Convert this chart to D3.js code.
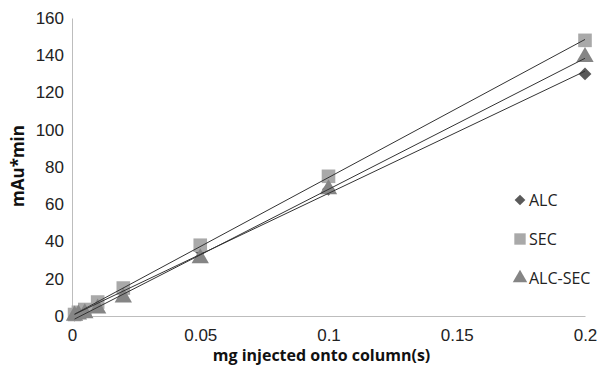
<!DOCTYPE html>
<html>
<head>
<meta charset="utf-8">
<script src="https://cdn.jsdelivr.net/npm/d3@7"></script>
<style>
  body { margin: 0; background: #fff; }
  svg { font-family: "Open Sans", sans-serif; }
</style>
</head>
<body>
<div id="chart"></div>
<script>
// mg injected
const doses = [0.001, 0.0025, 0.005, 0.01, 0.02, 0.05, 0.1, 0.2];
// peak areas (mAu*min)
const alc = [0.5, 1.5, 3, 6, 13, 35, 68, 130];
const sec = [0.8, 2, 3.5, 7.5, 15, 38, 75, 148];
const alcSec = [0.2, 0.8, 1.5, 4, 10, 31, 68, 139];
const seriesNames = ['ALC', 'SEC', 'ALC-SEC'];
const xTicks = [0, 0.05, 0.1, 0.15, 0.2];
const yTicks = [0, 20, 40, 60, 80, 100, 120, 140, 160];

const width = 598, height = 367;
const margin = {top: 18, right: 13, bottom: 51, left: 72};
const w = width - margin.left - margin.right;
const h = height - margin.top - margin.bottom;

const svg = d3.select('#chart').append('svg')
  .attr('width', width).attr('height', height);
const g = svg.append('g')
  .attr('transform', `translate(${margin.left},${margin.top})`);

const x = d3.scaleLinear().domain([0, 0.2]).range([0, w]);
const y = d3.scaleLinear().domain([0, 160]).range([h, 0]);

// axes
g.append('g')
  .attr('transform', `translate(0,${h})`)
  .call(d3.axisBottom(x).tickValues(xTicks).tickSize(0).tickPadding(13)
    .tickFormat(d => d === 0 ? '0' : String(+d.toFixed(2))))
  .call(a => a.select('.domain').attr('stroke', '#bdbdbd'))
  .selectAll('text').attr('font-size', 17).attr('fill', '#222');

g.append('g')
  .call(d3.axisLeft(y).tickValues(yTicks).tickSize(0).tickPadding(8))
  .call(a => a.select('.domain').attr('stroke', '#bdbdbd'))
  .selectAll('text').attr('font-size', 17).attr('fill', '#222');

const series = [
  {name: seriesNames[0], values: alc, symbol: d3.symbolDiamond2, size: 105, color: '#5a5a5a'},
  {name: seriesNames[1], values: sec, symbol: d3.symbolSquare, size: 185, color: '#a9a9a9'},
  {name: seriesNames[2], values: alcSec, symbol: d3.symbolTriangle, size: 130, color: '#858585'}
];

// least squares trendline
function fit(xs, ys) {
  const mx = d3.mean(xs), my = d3.mean(ys);
  const sxy = d3.sum(xs, (v, i) => (v - mx) * (ys[i] - my));
  const sxx = d3.sum(xs, v => (v - mx) * (v - mx));
  const m = sxy / sxx;
  return {m, b: my - m * mx};
}

// markers (drawn first so trendlines sit on top)
series.forEach(s => {
  g.selectAll(null)
    .data(doses.map((d, i) => [d, s.values[i]]))
    .enter().append('path')
    .attr('d', d3.symbol().type(s.symbol).size(s.size))
    .attr('transform', d => `translate(${x(d[0])},${y(d[1])})`)
    .attr('fill', s.color);
});

series.forEach(s => {
  const f = fit(doses, s.values);
  const x0 = d3.min(doses), x1 = d3.max(doses);
  g.append('line')
    .attr('x1', x(x0)).attr('y1', y(f.m * x0 + f.b))
    .attr('x2', x(x1)).attr('y2', y(f.m * x1 + f.b))
    .attr('stroke', '#333').attr('stroke-width', 1);
});

// legend
const legend = svg.append('g').attr('transform', 'translate(520,200)');
series.forEach((s, i) => {
  const row = legend.append('g').attr('transform', `translate(0,${i * 39})`);
  row.append('path')
    .attr('d', d3.symbol().type(s.symbol).size(s.size * 0.7))
    .attr('fill', s.color);
  row.append('text')
    .attr('x', 9).attr('y', 6)
    .attr('font-size', 16).attr('fill', '#222')
    .text(s.name);
});

// axis titles
svg.append('text')
  .attr('x', margin.left + w / 2 - 7).attr('y', 361)
  .attr('text-anchor', 'middle')
  .attr('font-size', 16).attr('font-weight', 'bold').attr('fill', '#111')
  .text('mg injected onto column(s)');

svg.append('text')
  .attr('transform', 'translate(24,166) rotate(-90)')
  .attr('text-anchor', 'middle')
  .attr('font-size', 17).attr('font-weight', 'bold').attr('fill', '#111')
  .text('mAu*min');
</script>
</body>
</html>
